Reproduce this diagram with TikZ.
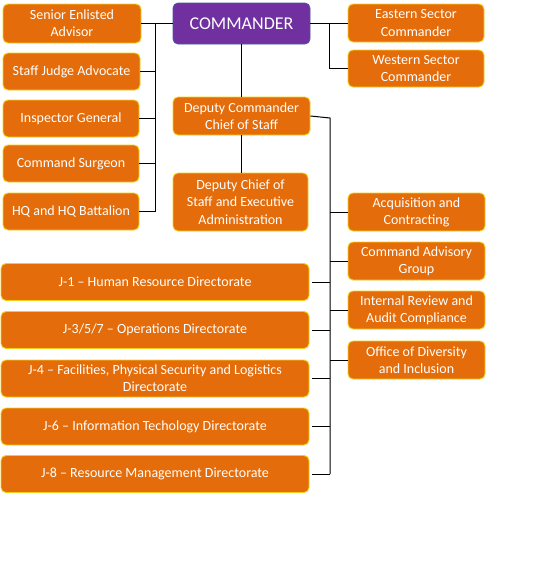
\documentclass[tikz,border=0pt]{standalone}
\usepackage{fontspec}
\setmainfont{Carlito}
\definecolor{boxfill}{RGB}{228,108,10}
\definecolor{boxedge}{RGB}{240,210,20}
\definecolor{cmdfill}{RGB}{112,48,160}
\definecolor{cmdedge}{RGB}{70,90,160}
\begin{document}
\begin{tikzpicture}[x=1pt,y=-1pt,
  orgbox/.style={draw=boxedge,fill=boxfill,line width=0.9pt,rounded corners=5pt,
    text=white,font=\fontsize{14}{17.2}\selectfont,align=center,inner sep=1pt},
  cmdbox/.style={draw=cmdedge,fill=cmdfill,line width=0.8pt,rounded corners=5pt,
    text=white,font=\fontsize{18}{21}\selectfont,align=center,inner sep=1pt},
  link/.style={draw=black,line width=1pt}]
\useasboundingbox (0,0) rectangle (547,587);
% top level
\node[cmdbox,minimum width=137pt,minimum height=41pt] (cmd) at (241.5,23.5) {COMMANDER};
% left staff
\node[orgbox,minimum width=138pt,minimum height=39pt] (sea) at (72,23.5) {Senior Enlisted\\Advisor};
\node[orgbox,minimum width=137pt,minimum height=37pt] (sja) at (71.5,71.5) {Staff Judge Advocate};
\node[orgbox,minimum width=136pt,minimum height=37pt] (ig) at (71,118.5) {Inspector General};
\node[orgbox,minimum width=136pt,minimum height=37pt] (cs) at (71,163.5) {Command Surgeon};
\node[orgbox,minimum width=136pt,minimum height=37pt] (hq) at (71,211.5) {HQ and HQ Battalion};
% sector commanders
\node[orgbox,minimum width=136pt,minimum height=38pt] (esc) at (416,23) {Eastern Sector\\Commander};
\node[orgbox,minimum width=136pt,minimum height=37pt] (wsc) at (416,68.5) {Western Sector\\Commander};
% deputies
\node[orgbox,minimum width=137pt,minimum height=38pt] (dc) at (241.5,116) {Deputy Commander\\Chief of Staff};
\node[orgbox,minimum width=135pt,minimum height=58pt] (dcs) at (240.5,202) {Deputy Chief of\\Staff and Executive\\Administration};
% right offices
\node[orgbox,minimum width=137pt,minimum height=38pt] (acq) at (416.5,212) {Acquisition and\\Contracting};
\node[orgbox,minimum width=137pt,minimum height=38pt] (cag) at (416.5,261) {Command Advisory\\Group};
\node[orgbox,minimum width=137pt,minimum height=38pt] (ir) at (416.5,310) {Internal Review and\\Audit Compliance};
\node[orgbox,minimum width=137pt,minimum height=38pt] (odi) at (416.5,360) {Office of Diversity\\and Inclusion};
% directorates
\node[orgbox,minimum width=308pt,minimum height=37pt] (j1) at (155,282) {J-1 -- Human Resource Directorate};
\node[orgbox,minimum width=308pt,minimum height=37pt] (j3) at (155,330) {J-3/5/7 -- Operations Directorate};
\node[orgbox,minimum width=308pt,minimum height=37pt] (j4) at (155,378.5) {J-4 -- Facilities, Physical Security and Logistics\\Directorate};
\node[orgbox,minimum width=308pt,minimum height=37pt] (j6) at (155,426.5) {J-6 -- Information Techology Directorate};
\node[orgbox,minimum width=308pt,minimum height=37pt] (j8) at (155,474) {J-8 -- Resource Management Directorate};
% bus coordinates
\coordinate (lbtop) at (155,23.5);
\coordinate (lbbot) at (155,211.5);
\coordinate (rbtop) at (329,23.5);
\coordinate (dbtop) at (330,118);
\coordinate (dbbot) at (330,474);
% connectors
\draw[link] (sea.east) -- (cmd.west);
\draw[link] (lbtop) -- (lbbot);
\draw[link] (sja.east) -- (sja.east -| lbtop);
\draw[link] (ig.east) -- (ig.east -| lbtop);
\draw[link] (cs.east) -- (cs.east -| lbtop);
\draw[link] (hq.east) -- (lbbot);
\draw[link] (cmd.east) -- (rbtop) |- (wsc.west);
\draw[link] (esc.west) -- (esc.west -| rbtop);
\draw[link] (cmd.south) -- (cmd.south |- dc.north);
\draw[link] (dc.south) -- (dc.south |- dcs.north);
\draw[link] (dc.east) -- (dbtop) -- (dbbot);
\foreach \n in {acq,cag,ir,odi} \draw[link] (\n.west) -- (\n.west -| dbtop);
\foreach \n in {j1,j3,j4,j6} \draw[link] ([xshift=3pt]\n.east) -- (\n.east -| dbtop);
\draw[link] ([xshift=3pt]j8.east) -- (dbbot);
\end{tikzpicture}
\end{document}
